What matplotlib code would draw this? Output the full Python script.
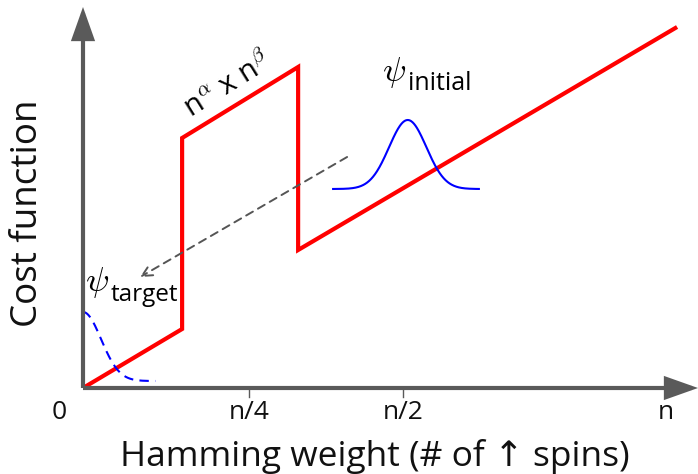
import numpy as np
import matplotlib
matplotlib.use("Agg")
import matplotlib.pyplot as plt

plt.rcParams["mathtext.fontset"] = "cm"
plt.rcParams["font.family"] = ["Open Sans", "DejaVu Sans"]

# Cost landscape (x in units of n, y in arbitrary cost units)
cost_x = [0.0, 0.170, 0.170, 0.369, 0.369, 1.019]
cost_y = [0.0, 0.59, 2.50, 3.21, 1.38, 3.61]

# Tick positions along the Hamming-weight axis
tick_pos = [0.0, 0.285, 0.549, 1.0]
tick_labels = ["0", "n/4", "n/2", "n"]

# Wavefunction bumps: (center, baseline, height, width, x-range)
init_center, init_base, init_height, init_width = 0.557, 1.99, 0.69, 0.032
init_range = (0.429, 0.679)
target_center, target_base, target_height, target_width = 0.0, 0.07, 0.69, 0.031
target_range = (0.0, 0.124)

# Evolution arrow (from initial toward target)
evo_start = (0.453, 2.31)
evo_end = (0.098, 1.11)

axis_color = "#5a5a5a"

fig = plt.figure(figsize=(6.98, 4.74), dpi=100)
ax = fig.add_axes([0, 0, 1, 1])
ax.set_xlim(-83 / 583, 615 / 583)
ax.set_ylim(-0.86, 3.88)
ax.axis("off")

# Axes drawn as arrows
arrow_kw = dict(arrowstyle="-|>,head_length=1.55,head_width=0.55",
                mutation_scale=12, lw=3.0, color=axis_color,
                shrinkA=0, shrinkB=0, joinstyle="miter", capstyle="butt")
ax.annotate("", xy=(1.0549, 0.0), xytext=(0.0, 0.0), arrowprops=arrow_kw)
ax.annotate("", xy=(0.0, 3.81), xytext=(0.0, 0.0), arrowprops=arrow_kw)

# Tick marks and labels
for p in tick_pos:
    if 0 < p < 1:
        ax.plot([p, p], [0, -0.085], color=axis_color, lw=1.0)
for p, lab in zip(tick_pos, tick_labels):
    xoff = -0.041 if p == 0 else 0.0
    ax.text(p + xoff, -0.245, lab, ha="center", va="center", fontsize=19,
            color="#111111")

ax.text(0.50, -0.68, "Hamming weight (# of \u2191 spins)", ha="center",
        va="center", fontsize=25.5, color="#111111")
ax.text(-0.095, 1.75, "Cost function", ha="center", va="center",
        rotation=90, fontsize=26.5, color="#111111")

# Cost function
ax.plot(cost_x, cost_y, color="#ff0000", lw=3.0, solid_joinstyle="miter",
        solid_capstyle="butt")

# Initial state
xi = np.linspace(*init_range, 300)
yi = init_base + init_height * np.exp(-0.5 * ((xi - init_center) / init_width) ** 2)
ax.plot(xi, yi, color="#0000ff", lw=1.5)

# Target state
xt = np.linspace(*target_range, 300)
yt = target_base + target_height * np.exp(-0.5 * ((xt - target_center) / target_width) ** 2)
ax.plot(xt, yt, color="#0000ff", lw=1.5, ls=(0, (4.5, 3)))

# Evolution arrow
ax.annotate("", xy=evo_end, xytext=evo_start,
            arrowprops=dict(arrowstyle="->,head_length=0.6,head_width=0.3",
                            mutation_scale=12, lw=1.4, color="#555555",
                            linestyle=(0, (4, 3)), shrinkA=0, shrinkB=0))

# Labels
ax.text(0.513, 3.07, r"$\psi$", fontsize=25, ha="left", va="baseline")
ax.text(0.558, 2.98, "initial", fontsize=18, ha="left", va="baseline")
ax.text(0.003, 0.97, r"$\psi$", fontsize=25, ha="left", va="baseline")
ax.text(0.047, 0.87, "target", fontsize=17.5, ha="left", va="baseline")

ax.text(0.250, 3.02, r"n$^{\alpha}$ x n$^{\beta}$", fontsize=21,
        rotation=32, ha="center", va="center", rotation_mode="anchor")

fig.savefig("out.png", dpi=100)
